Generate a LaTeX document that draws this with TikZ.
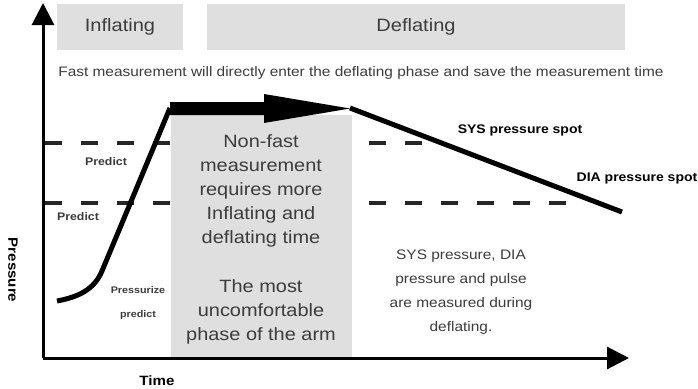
\documentclass[tikz,border=0pt]{standalone}
\usepackage{fontspec}
\setmainfont{Liberation Sans}[FakeStretch=1.12]
\usetikzlibrary{arrows.meta}
\definecolor{boxgray}{HTML}{DFDFDF}
\definecolor{txt}{HTML}{3C3C3C}
\begin{document}
\begin{tikzpicture}[x=1pt,y=-1pt,
  phase/.style={fill=boxgray, draw=none, text=txt, font=\fontsize{17.9}{20}\selectfont},
  axis/.style={line width=3pt, -{Triangle[length=22pt,width=22pt]}},
  curve/.style={line width=5pt, line join=round},
  guide/.style={line width=3.2pt, dash pattern=on 17pt off 19pt, draw=black!85},
  small/.style={font=\fontsize{11}{12}\bfseries\selectfont, text=txt},
  tiny/.style={font=\fontsize{9.6}{11}\bfseries\selectfont, text=txt},
  spot/.style={font=\fontsize{12.5}{14}\bfseries\selectfont, text=black},
  big/.style={font=\fontsize{17.8}{24}\selectfont, text=txt, align=center},
  note/.style={font=\fontsize{13.8}{24}\selectfont, text=txt, align=center},
  axlab/.style={font=\fontsize{13.5}{15}\bfseries\selectfont, text=black}]
\useasboundingbox (0,0) rectangle (698,388);
\fill[white] (0,0) rectangle (698,388);
% phase boxes
\node[phase, minimum width=126pt, minimum height=46pt] (infl) at (120,27) {Inflating};
\node[phase, minimum width=418pt, minimum height=46pt] (defl) at (416,27) {Deflating};
\node[font=\fontsize{13.75}{15}\selectfont, text=txt] (fast) at (361,73) {Fast measurement will directly enter the deflating phase and save the measurement time};
% dashed guides
\coordinate (s1) at (45,143);
\coordinate (s2) at (422,143);
\coordinate (d1) at (45,203);
\coordinate (d2) at (572,203);
\draw[guide] (s1) -- (s2);
\draw[guide] (d1) -- (d2);
% gray region
\fill[boxgray] (171,115) rectangle (352,357);
\node[big] (nonfast) at (261,191) {Non-fast\\measurement\\requires more\\Inflating and\\deflating time};
\node[big] (uncomf) at (261,312) {The most\\uncomfortable\\phase of the arm};
% axes
\coordinate (O) at (43,358);
\coordinate (ytop) at (43,3);
\coordinate (xend) at (629,358);
\draw[axis] (O) -- (ytop);
\draw[axis] (O) -- (xend);
% curve
\coordinate (c0) at (57,301);
\coordinate (c1) at (102,271);
\coordinate (peak) at (170,108);
\coordinate (astart) at (350,108);
\coordinate (cend) at (622,212);
\draw[curve] (c0) .. controls (78,297) and (94,290) .. (c1) -- (peak);
\draw[curve] (astart) -- (cend);
% big arrow
\fill[black] (170,102) -- (264,102) -- (264,94) -- (350,108.5) -- (264,123) -- (264,115) -- (170,115) -- cycle;
% labels
\node[small] (p1) at (106,162) {Predict};
\node[small] (p2) at (78,217) {Predict};
\node[tiny] (p3) at (138,290) {Pressurize};
\node[tiny] (p4) at (138,315) {predict};
\node[spot] (sys) at (520,130) {SYS pressure spot};
\node[spot] (dia) at (637,178) {DIA pressure spot};
\node[note] (meas) at (461,292) {SYS pressure, DIA\\pressure and pulse\\are measured during\\deflating.};
\node[axlab, rotate=-90] (pres) at (13,270) {Pressure};
\node[axlab] (time) at (157,381) {Time};
\end{tikzpicture}
\end{document}
